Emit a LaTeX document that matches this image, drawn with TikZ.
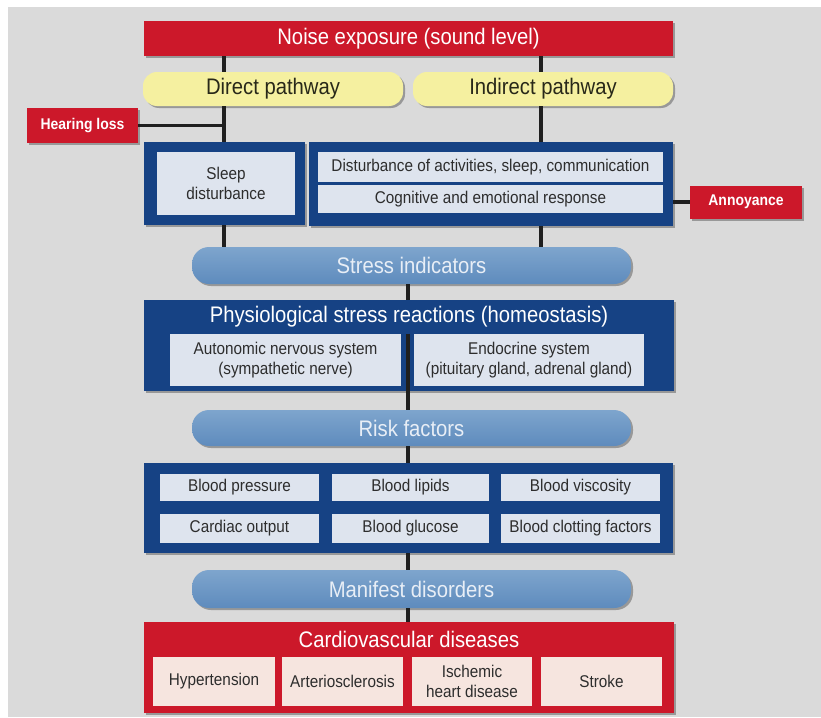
\documentclass[tikz,border=0pt]{standalone}
\usepackage{fontspec}
\setmainfont{Liberation Sans}[FakeStretch=0.9]
\usetikzlibrary{shadows}
\definecolor{bggray}{RGB}{218,218,218}
\definecolor{cred}{RGB}{204,24,42}
\definecolor{cyellow}{RGB}{245,240,160}
\definecolor{cytext}{RGB}{40,40,25}
\definecolor{cblue}{RGB}{22,66,132}
\definecolor{clight}{RGB}{222,228,238}
\definecolor{cpilltop}{RGB}{126,165,205}
\definecolor{cpillbot}{RGB}{94,139,189}
\definecolor{cpilltext}{RGB}{232,238,246}
\definecolor{cpink}{RGB}{246,229,223}
\definecolor{ctext}{RGB}{45,45,45}
\tikzset{
  shade/.style={drop shadow={shadow xshift=2pt, shadow yshift=-2pt, opacity=0.3, fill=black}},
  bigfont/.style={font=\fontsize{22.5}{25}\selectfont},
  smallfont/.style={font=\fontsize{17}{19.5}\selectfont},
  redbox/.style={rectangle, fill=cred, text=white, inner sep=0pt, align=center, shade},
  frame/.style={rectangle, fill=cblue, inner sep=0pt, shade},
  redframe/.style={rectangle, fill=cred, inner sep=0pt, shade},
  lightbox/.style={rectangle, fill=clight, text=ctext, inner sep=0pt, align=center, smallfont},
  pinkbox/.style={rectangle, fill=cpink, text=ctext, inner sep=0pt, align=center, smallfont},
  ypill/.style={rectangle, rounded corners=14pt, fill=cyellow, text=cytext, inner sep=0pt, bigfont, shade},
  bpill/.style={rectangle, rounded corners=17pt, top color=cpilltop, bottom color=cpillbot, text=cpilltext, inner sep=0pt, bigfont, shade, minimum width=439pt},
  title/.style={text=white, inner sep=0pt, bigfont},
  tag/.style={redbox, font=\bfseries\fontsize{15.5}{18}\selectfont},
  link/.style={line width=3.2pt, black!88}
}
\begin{document}
\begin{tikzpicture}[x=1pt,y=-1pt]
\useasboundingbox (0,0) rectangle (821,717);
\fill[white] (0,0) rectangle (821,717);
\fill[bggray] (8,7) rectangle (821,717);

\coordinate (ca) at (224,0);
\coordinate (cb) at (541,0);
\coordinate (cm) at (408,0);

% top
\node[redbox, bigfont, minimum width=529pt, minimum height=35pt] (noise) at (408.5,38.5) {Noise exposure (sound level)};
\node[ypill, minimum width=260pt, minimum height=34pt] (direct) at (273,89) {Direct pathway};
\node[ypill, minimum width=260pt, minimum height=34pt] (indirect) at (543,89) {Indirect pathway};
\node[tag, minimum width=111pt, minimum height=35pt] (hearing) at (82.5,125.5) {Hearing loss};

% first frames
\node[frame, minimum width=161pt, minimum height=83pt] (sleepframe) at (224.5,183.5) {};
\node[lightbox, minimum width=138pt, minimum height=63pt] (sleep) at (226,183.5) {Sleep\\disturbance};
\node[frame, minimum width=364pt, minimum height=84pt] (rightframe) at (491,184) {};
\node[lightbox, minimum width=345pt, minimum height=30pt] (disturb) at (490.5,167) {Disturbance of activities, sleep, communication};
\node[lightbox, minimum width=345pt, minimum height=28pt] (cognitive) at (490.5,199) {Cognitive and emotional response};
\node[tag, minimum width=112pt, minimum height=33pt] (annoy) at (746,202) {Annoyance};

% stress
\node[bpill, minimum height=37pt] (stress) at (411.5,265.5) {Stress indicators};

% physiological
\node[frame, minimum width=530pt, minimum height=91pt] (physio) at (409,345.5) {};
\node[title] (phystitle) at (409,317) {Physiological stress reactions (homeostasis)};
\node[lightbox, minimum width=231pt, minimum height=52pt] (autonomic) at (285.5,360) {Autonomic nervous system\\(sympathetic nerve)};
\node[lightbox, minimum width=230pt, minimum height=52pt] (endocrine) at (529,360) {Endocrine system\\(pituitary gland, adrenal gland)};

% risk
\node[bpill, minimum height=36pt] (risk) at (411.5,428) {Risk factors};

% blood
\node[frame, minimum width=529pt, minimum height=90pt] (bloodframe) at (408.5,508) {};
\node[lightbox, minimum width=159pt, minimum height=27pt] (bp) at (239.5,487.5) {Blood pressure};
\node[lightbox, minimum width=157pt, minimum height=27pt] (bl) at (410.5,487.5) {Blood lipids};
\node[lightbox, minimum width=159pt, minimum height=27pt] (bv) at (580.5,487.5) {Blood viscosity};
\node[lightbox, minimum width=159pt, minimum height=29pt] (co) at (239.5,528.5) {Cardiac output};
\node[lightbox, minimum width=157pt, minimum height=29pt] (bg) at (410.5,528.5) {Blood glucose};
\node[lightbox, minimum width=159pt, minimum height=29pt] (bc) at (580.5,528.5) {Blood clotting factors};

% manifest
\node[bpill, minimum height=38pt] (manifest) at (411.5,589) {Manifest disorders};

% cardio
\node[redframe, minimum width=530pt, minimum height=91pt] (cardio) at (409,667.5) {};
\node[title] (cardiotitle) at (409,639) {Cardiovascular diseases};
\node[pinkbox, minimum width=122pt, minimum height=49pt] (hyper) at (214,681.5) {Hypertension};
\node[pinkbox, minimum width=121pt, minimum height=49pt] (arterio) at (342.5,681.5) {Arteriosclerosis};
\node[pinkbox, minimum width=120pt, minimum height=49pt] (ischemic) at (472,681.5) {Ischemic\\heart disease};
\node[pinkbox, minimum width=121pt, minimum height=49pt] (stroke) at (601.5,681.5) {Stroke};

% connectors
\draw[link] (noise.south -| ca) -- (direct.north -| ca);
\draw[link] (noise.south -| cb) -- (indirect.north -| cb);
\draw[link] (direct.south -| ca) -- (sleepframe.north -| ca);
\draw[link] (indirect.south -| cb) -- (rightframe.north -| cb);
\draw[link] (hearing.east) -- (hearing.east -| ca);
\draw[link] (rightframe.east |- annoy.west) -- (annoy.west);
\draw[link] (sleepframe.south -| ca) -- (stress.north -| ca);
\draw[link] (rightframe.south -| cb) -- (stress.north -| cb);
\draw[link] (stress.south -| cm) -- (physio.north -| cm);
\draw[link] (autonomic.north -| cm) -- (risk.north -| cm);
\draw[link] (risk.south -| cm) -- (bloodframe.north -| cm);
\draw[link] (bloodframe.south -| cm) -- (manifest.north -| cm);
\draw[link] (manifest.south -| cm) -- (cardio.north -| cm);
\end{tikzpicture}
\end{document}
